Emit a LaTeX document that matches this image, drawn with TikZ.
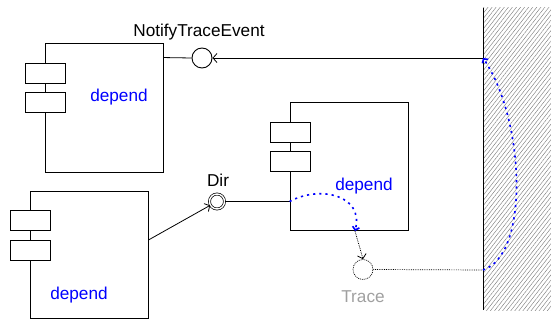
\documentclass[tikz,border=0pt]{standalone}
\usepackage{fontspec}
\setmainfont{Liberation Sans}
\usetikzlibrary{arrows.meta,patterns.meta,calc}
\begin{document}
\begin{tikzpicture}[x=1pt,y=-1pt,
  every node/.style={font=\fontsize{17.2}{20}\selectfont},
  comp/.style={draw, line width=0.9pt, minimum width=118pt, inner sep=0pt},
  port/.style={draw, fill=white, line width=0.9pt, minimum width=40pt, minimum height=20pt, inner sep=0pt},
  iface/.style={draw, circle, line width=0.9pt, minimum size=20pt, inner sep=0pt},
  lbl/.style={anchor=base, inner sep=0pt},
  dep/.style={lbl, text=blue},
  conn/.style={line width=0.8pt},
  tip/.style={-{Straight Barb[length=4pt,width=9pt]}},
  bluedot/.style={blue, line width=1.6pt, dash pattern=on 2.2pt off 4pt},
  ]
\useasboundingbox (0,0) rectangle (551,320);
% wall
\fill[pattern={Lines[angle=52,distance=3.2pt,line width=0.45pt]}, pattern color=gray] (483,8) rectangle (551,310);
\draw[line width=0.9pt] (483,8) -- (483,310);
\coordinate (wallN) at (483,58);
\coordinate (wallT) at (483,270);
% components
\node[comp, minimum height=129pt] (box1) at (104,107.5) {};
\node[port] (p11) at (45,73) {};
\node[port] (p12) at (45,102) {};
\node[dep] (d1) at (119,102) {depend};
\node[comp, minimum height=128pt] (box2) at (349,166) {};
\node[port] (p21) at (290.5,132.5) {};
\node[port] (p22) at (290.5,161.5) {};
\node[dep] (d2) at (364,191) {depend};
\node[comp, minimum height=127pt] (box3) at (89,254.5) {};
\node[port] (p31) at (30,220.5) {};
\node[port] (p32) at (30,250) {};
\node[dep] (d3) at (79,299) {depend};
% interfaces
\node[iface] (notify) at (202,58) {};
\node[lbl] (notifyl) at (199,37) {NotifyTraceEvent};
\node[draw, circle, line width=0.7pt, double, double distance=1.4pt, minimum size=15pt, inner sep=0pt] (dir) at (217,201.5) {};
\node[lbl] (dirl) at (218,187) {Dir};
\node[iface, densely dotted, line width=0.7pt] (trace) at (363,269.5) {};
\node[lbl, text={rgb,255:red,160;green,160;blue,160}] (tracel) at (363,302) {Trace};
% connectors
\draw[conn] ($(box1.north east)+(0,15)$) -- (notify.west);
\draw[conn, tip] (wallN) -- (notify.east);
\draw[conn] (dir.east) -- (dir -| box2.west);
\draw[conn, tip] ($(box3.east)+(0,-14.5)$) -- (dir);
\draw[conn, densely dotted, line width=0.7pt] (trace.east) -- (wallT);
\coordinate (dstart) at (dir -| box2.west);
\coordinate (dend) at (355,231);
\draw[bluedot, -{Straight Barb[length=3pt,width=7pt]}] (dstart) .. controls (320,185) and (364,195) .. (dend);
\draw[conn, densely dotted, tip] (dend) -- (trace.north);
\draw[bluedot, -{Straight Barb[length=3pt,width=7pt]}] (wallT) .. controls (530,255) and (525,120) .. (wallN);
\end{tikzpicture}
\end{document}
